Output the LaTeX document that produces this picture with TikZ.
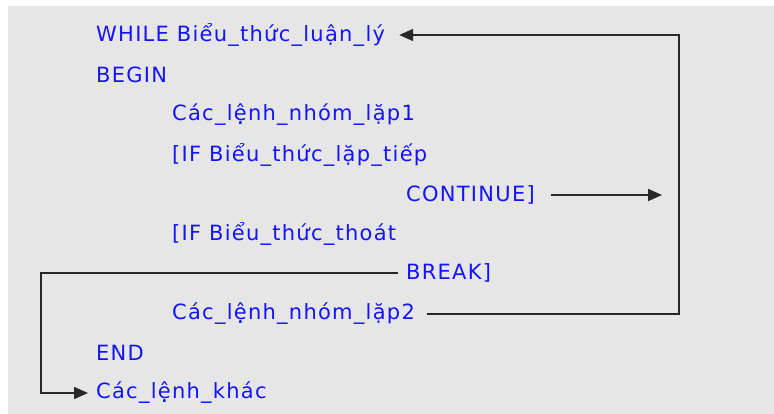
\documentclass[tikz,border=0pt]{standalone}
\usepackage{fontspec}
\setmainfont{DejaVu Sans}
\newfontfamily\codefont[LetterSpace=6]{DejaVu Sans}
\usetikzlibrary{arrows.meta, positioning, calc}
\definecolor{panelgray}{RGB}{230, 230, 230}
\definecolor{codeblue}{RGB}{20, 20, 250}
\definecolor{linegray}{RGB}{40, 40, 40}

\begin{document}
\begin{tikzpicture}[
        x=1pt, y=-1pt,
        code/.style={anchor=west, inner sep=0pt, text=codeblue, font=\codefont\fontsize{21}{24}\selectfont},
        arrow/.style={-{Triangle[length=14pt, width=12pt]}, line width=1.6pt, draw=linegray}
    ]
        % Panel
        \useasboundingbox (0,0) rectangle (774,414);
        \fill[panelgray] (8,6) rectangle (774,414);

        % Loop header
        \node[code] (while) at (96,35) {WHILE Biểu\_thức\_luận\_lý};
        \node[code] (begin) at (96,75) {BEGIN};

        % Loop body
        \node[code] (lap1) at (172,115) {Các\_lệnh\_nhóm\_lặp1};
        \node[code] (iftiep) at (172,155) {[IF Biểu\_thức\_lặp\_tiếp};
        \node[code] (cont) at (406,195) {CONTINUE]};
        \node[code] (ifthoat) at (172,234) {[IF Biểu\_thức\_thoát};
        \node[code] (brk) at (406,273) {BREAK]};
        \node[code] (lap2) at (172,314) {Các\_lệnh\_nhóm\_lặp2};

        % After the loop
        \node[code] (endw) at (96,353) {END};
        \node[code] (khac) at (96,393) {Các\_lệnh\_khác};

        % Corners of the jump lines
        \coordinate (back) at (679,35);
        \coordinate (out) at (41,273);

        % Arrows
        \draw[arrow] ($(lap2.east)+(12,0)$) -| (back) -- ($(while.east)+(14,0)$);
        \draw[arrow] ($(cont.east)+(16,0)$) -- ($(cont.east -| back)+(-17,0)$);
        \draw[arrow] ($(brk.west)+(-8,0)$) -- (out) |- ($(khac.west)+(-8,0)$);
    \end{tikzpicture}
\end{document}
